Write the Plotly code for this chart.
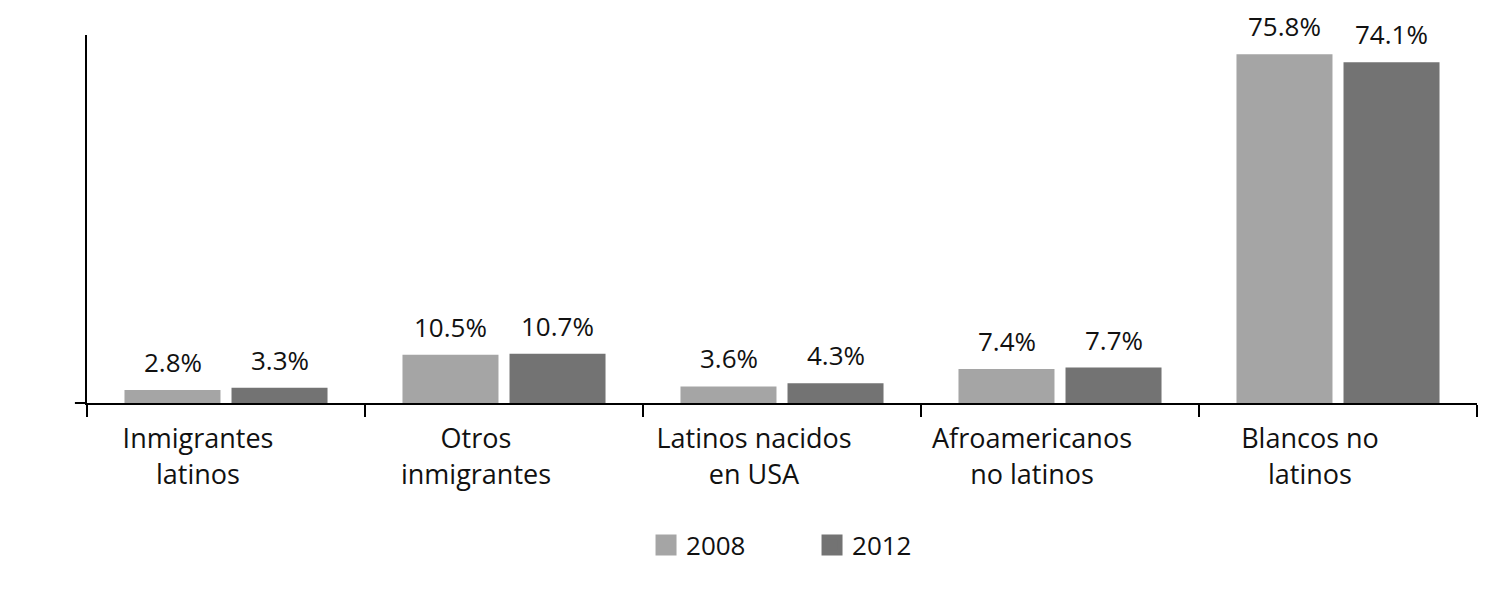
import plotly.graph_objects as go

categories = ["Inmigrantes<br>latinos", "Otros<br>inmigrantes", "Latinos nacidos<br>en USA",
              "Afroamericanos<br>no latinos", "Blancos no<br>latinos"]
years = ["2008", "2012"]
values_2008 = [2.8, 10.5, 3.6, 7.4, 75.8]
values_2012 = [3.3, 10.7, 4.3, 7.7, 74.1]
colors = ["#a5a5a5", "#737373"]

FONT = "Open Sans"
fig = go.Figure()
series = [values_2008, values_2012]
for name, vals, col in zip(years, series, colors):
    fig.add_trace(go.Bar(x=categories, y=vals, name=name, marker=dict(color=col, line=dict(width=0)),
                         showlegend=False))
    # legend proxy with larger square swatches
    fig.add_trace(go.Scatter(x=[None], y=[None], mode="markers", name=name,
                             marker=dict(symbol="square", size=16, color=col,
                                         line=dict(color=col, width=6))))

offsets = [-53.5, 53.5]
for vals, off in zip(series, offsets):
    for c, v in zip(categories, vals):
        fig.add_annotation(x=c, y=v, text=f"{v:.1f}%", showarrow=False, xshift=off, yshift=8,
                           yanchor="bottom", font=dict(family=FONT, size=26, color="#111"))

fig.add_shape(type="line", xref="paper", yref="paper", x0=-0.0087, x1=0, y0=0, y1=0,
              line=dict(color="#000", width=2))

fig.update_layout(
    width=1500, height=594,
    margin=dict(l=79, r=31, t=27, b=199),
    paper_bgcolor="white", plot_bgcolor="white",
    barmode="group", bargap=0.23, bargroupgap=0.103,
    font=dict(family=FONT, size=26, color="#111"),
    legend=dict(orientation="h", x=0.5216, xanchor="center", y=-0.386, yanchor="middle",
                font=dict(family=FONT, size=26, color="#111"), entrywidth=121, itemwidth=30),
    xaxis=dict(showline=True, linecolor="#000", linewidth=2, ticks="outside", tickson="boundaries",
               ticklen=12, tickwidth=2, tickcolor="#000", showgrid=False, ticklabelstandoff=11,
               ticklabelshift=-28,
               tickfont=dict(family=FONT, size=27, color="#111")),
    yaxis=dict(range=[0, 80], showline=True, linecolor="#000", linewidth=2, showgrid=False,
               showticklabels=False, ticks="", zeroline=False),
)
fig.write_html("out.html")
